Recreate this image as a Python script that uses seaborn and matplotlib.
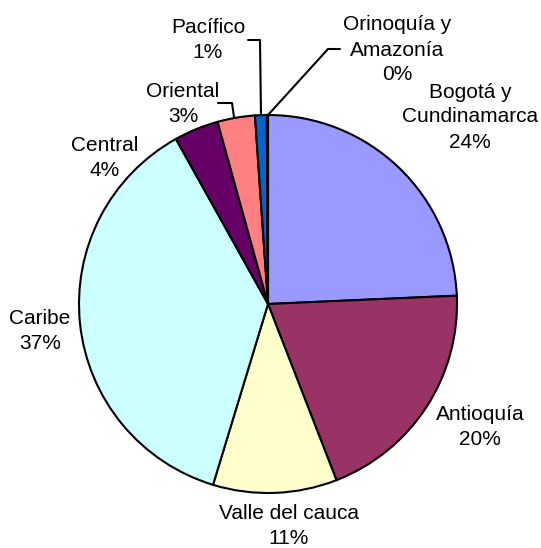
import matplotlib
matplotlib.use("Agg")
import matplotlib.pyplot as plt
import seaborn as sns

# Data (shares in percent)
regions = ["Bogotá y\nCundinamarca", "Antioquía", "Valle del cauca", "Caribe",
           "Central", "Oriental", "Pacífico", "Orinoquía y\nAmazonía"]
shares = [24.3, 19.8, 10.6, 37.2, 3.8, 3.2, 1.0, 0.1]
pct_labels = ["24%", "20%", "11%", "37%", "4%", "3%", "1%", "0%"]
colors = ["#9999FF", "#993366", "#FFFFCC", "#CCFFFF",
          "#660066", "#FF8080", "#0066CC", "#CCCCFF"]

sns.set_theme(style="white")
plt.rcParams['font.family'] = ['Liberation Sans', 'DejaVu Sans']

W, H = 541, 548
CX, CY, R = 268, 304, 189


def px(x, y):
    # pixel position -> data coords (pie radius = 1)
    return (x - CX) / R, (CY - y) / R


fig = plt.figure(figsize=(W / 100, H / 100), dpi=100)
ax = fig.add_axes([0, 0, 1, 1])
ax.pie(shares, colors=sns.color_palette(colors), startangle=90, counterclock=False,
       radius=1, wedgeprops=dict(edgecolor="black", linewidth=1.5))
ax.set_xlim(px(0, 0)[0], px(W, 0)[0])
ax.set_ylim(px(0, H)[1], px(0, 0)[1])
ax.set_aspect("auto")
ax.axis("off")

# label centres in pixels
label_pos = [(470, 117), (480, 427), (289, 526), (40, 331),
             (105, 158), (183, 104), (208, 40), (397, 50)]
for name, pct, (lx, ly) in zip(regions, pct_labels, label_pos):
    x, y = px(lx, ly)
    ax.text(x, y, f"{name}\n{pct}", ha="center", va="center", fontsize=15,
            color="black", linespacing=1.4)

# leader lines
leaders = [
    [(218, 103), (232, 103), (234, 117)],
    [(248, 40), (260, 40), (261, 115)],
    [(340, 49), (328, 49), (268, 115)],
]
for pts in leaders:
    xs, ys = zip(*[px(a, b) for a, b in pts])
    ax.plot(xs, ys, color="black", linewidth=1.5)

fig.savefig("out.png", dpi=100)
